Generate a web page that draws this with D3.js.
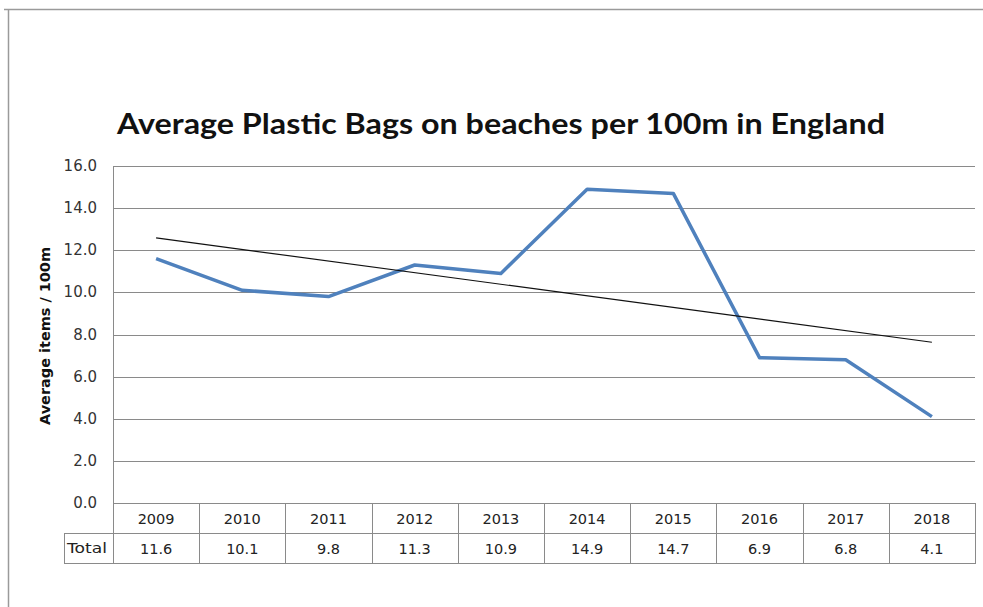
<!DOCTYPE html>
<html><head><meta charset="utf-8">
<script src="https://cdn.jsdelivr.net/npm/d3@7"></script>
<style>body{margin:0;background:#fff;}svg{display:block;}</style>
</head><body>
<script>
const years = ["2009","2010","2011","2012","2013","2014","2015","2016","2017","2018"];
const values = [11.6,10.1,9.8,11.3,10.9,14.9,14.7,6.9,6.8,4.1];
const yTicks = [0,2,4,6,8,10,12,14,16];
const rowLabel = "Total";
const title = "Average Plastic Bags on beaches per 100m in England";
const yTitle = "Average items / 100m";

(function(){
const W = 983, H = 607;
const svg = d3.select("body").append("svg").attr("width", W).attr("height", H);
const font = "'DejaVu Sans', Verdana, sans-serif";

// frame
svg.append("line").attr("x1",4).attr("x2",W).attr("y1",9.5).attr("y2",9.5).attr("stroke","#9a9a9a").attr("stroke-width",1.5);
svg.append("line").attr("x1",8.5).attr("x2",8.5).attr("y1",9).attr("y2",H).attr("stroke","#9a9a9a").attr("stroke-width",1.5);

const pL = 113, pR = 975, pT = 166, pB = 503;
const x = d3.scaleBand().domain(years).range([pL, pR]);
const y = d3.scaleLinear().domain([0,16]).range([pB, pT]);

// title
svg.append("text").attr("x", 117).attr("y", 134).attr("textLength", 768).attr("lengthAdjust","spacingAndGlyphs")
  .attr("font-family", "Lato, 'Open Sans', sans-serif").attr("font-weight","bold").attr("font-size", 28).attr("fill","#111").text(title);

// gridlines
svg.append("g").selectAll("line").data(yTicks).join("line")
  .attr("x1", pL).attr("x2", pR).attr("y1", d=>Math.round(y(d))+0.5).attr("y2", d=>Math.round(y(d))+0.5)
  .attr("stroke","#8a8a8a").attr("stroke-width",1);
svg.append("line").attr("x1",pL+0.5).attr("x2",pL+0.5).attr("y1",pT).attr("y2",pB).attr("stroke","#8a8a8a");

// y tick labels
svg.append("g").selectAll("text").data(yTicks).join("text")
  .attr("x", 97).attr("y", d=>y(d)+5).attr("text-anchor","end")
  .attr("font-family", font).attr("font-size", 15).attr("fill","#333").text(d=>d.toFixed(1));

// y title
svg.append("text").attr("transform","translate(50,336) rotate(-90)").attr("text-anchor","middle")
  .attr("textLength", 178).attr("lengthAdjust","spacingAndGlyphs")
  .attr("font-family", font).attr("font-weight","bold").attr("font-size", 14).attr("fill","#111").text(yTitle);

// table
const rowH = 30;
const tb = svg.append("g").attr("stroke","#8a8a8a").attr("fill","none");
tb.append("rect").attr("x", pL+0.5).attr("y", pB+0.5).attr("width", pR-pL).attr("height", rowH*2);
tb.append("rect").attr("x", 64.5).attr("y", pB+rowH+0.5).attr("width", pL-64).attr("height", rowH);
tb.append("line").attr("x1", pL).attr("x2", pR).attr("y1", pB+rowH+0.5).attr("y2", pB+rowH+0.5);
tb.selectAll("line.v").data(years.slice(1)).join("line").attr("class","v")
  .attr("x1", d=>Math.round(x(d))+0.5).attr("x2", d=>Math.round(x(d))+0.5).attr("y1", pB).attr("y2", pB+rowH*2);

svg.append("g").selectAll("text").data(years).join("text")
  .attr("x", d=>x(d)+x.bandwidth()/2).attr("y", pB+21).attr("text-anchor","middle")
  .attr("font-family", font).attr("font-size", 14.5).attr("fill","#222").text(d=>d);
svg.append("g").selectAll("text").data(values).join("text")
  .attr("x", (d,i)=>x(years[i])+x.bandwidth()/2).attr("y", pB+rowH+21).attr("text-anchor","middle")
  .attr("font-family", font).attr("font-size", 14.5).attr("fill","#222").text(d=>d.toFixed(1));
svg.append("text").attr("x", 67).attr("y", pB+rowH+20).attr("font-family", font).attr("font-size", 14.5)
  .attr("textLength", 40).attr("lengthAdjust","spacingAndGlyphs").attr("fill","#222").text(rowLabel);

// data line
const cx = (d,i)=>x(years[i])+x.bandwidth()/2;
svg.append("path").datum(values).attr("fill","none").attr("stroke","#4F81BD").attr("stroke-width",3.5).attr("stroke-linejoin","round")
  .attr("d", d3.line().x(cx).y(d=>y(d)));

// linear trendline computed from the data
const n = values.length, mx = (n-1)/2, my = d3.mean(values);
const slope = d3.sum(values, (v,i)=>(i-mx)*(v-my)) / d3.sum(values, (v,i)=>(i-mx)*(i-mx));
const icpt = my - slope*mx;
const trend = [icpt, icpt + slope*(n-1)];
svg.append("line").attr("x1", cx(0,0)).attr("x2", cx(0,n-1)).attr("y1", y(trend[0])).attr("y2", y(trend[1]))
  .attr("stroke","#111").attr("stroke-width",1.2);
})();
</script>
</body></html>
